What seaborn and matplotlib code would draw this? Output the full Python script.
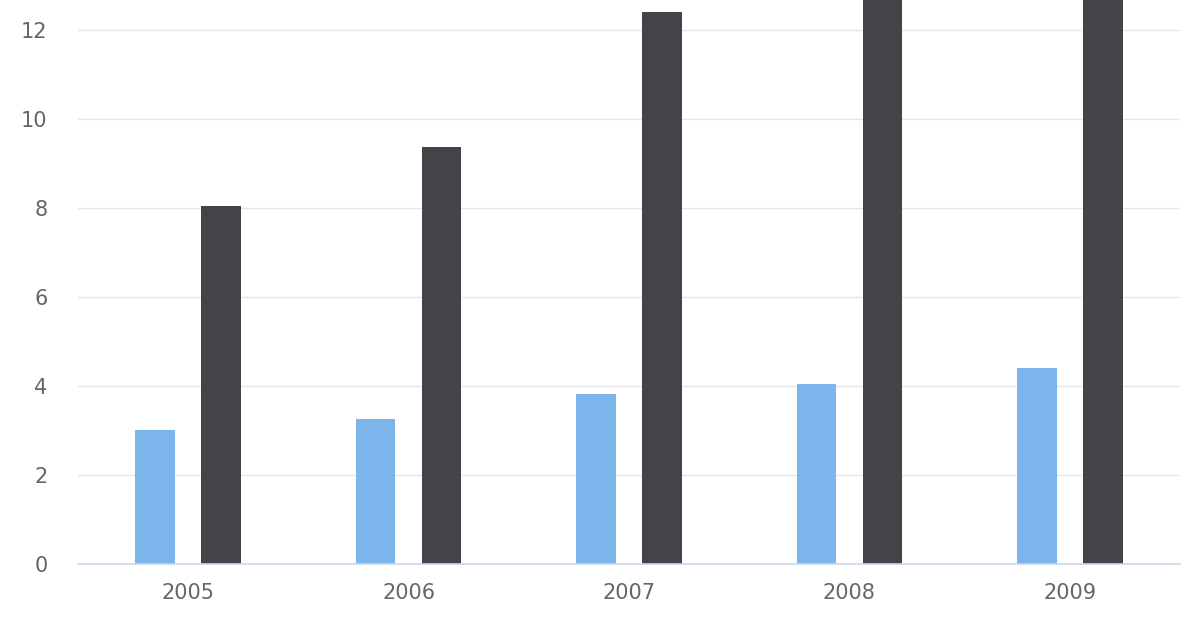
import matplotlib
matplotlib.use('Agg')
import matplotlib.pyplot as plt
import seaborn as sns
import pandas as pd

years = ['2005', '2006', '2007', '2008', '2009']
series_a = [3.02, 3.25, 3.83, 4.05, 4.41]
series_b = [8.05, 9.36, 12.41, 13.9, 15.1]

df = pd.DataFrame({
    'year': years * 2,
    'value': series_a + series_b,
    'series': ['A'] * len(years) + ['B'] * len(years),
})

sns.set_theme(style='white')
plt.rcParams['font.family'] = ['DejaVu Sans']

fig = plt.figure(figsize=(12, 6.4), dpi=100)
ax = fig.add_axes([78 / 1200, 76 / 640, 1102 / 1200, 564 / 640])

sns.barplot(data=df, x='year', y='value', hue='series',
            palette=['#7cb5ec', '#434348'], width=0.6, gap=0.4,
            legend=False, ax=ax, saturation=1, linewidth=0)

ax.set_ylim(0, 12.67)
ax.set_yticks([0, 2, 4, 6, 8, 10, 12])
ax.set_xlim(-0.5, 4.5)
ax.set_xlabel('')
ax.set_ylabel('')
ax.yaxis.grid(True, color='#e6e6e6', linewidth=1)
ax.set_axisbelow(True)
for s in ['top', 'right', 'left']:
    ax.spines[s].set_visible(False)
ax.spines['bottom'].set_color('#ccd6eb')
ax.spines['bottom'].set_linewidth(1.2)
ax.spines['bottom'].set_zorder(5)
ax.tick_params(axis='y', length=0, pad=22, labelsize=15, labelcolor='#666666')
ax.tick_params(axis='x', length=0, pad=14, labelsize=15, labelcolor='#666666')

fig.savefig('out.png', dpi=100)
